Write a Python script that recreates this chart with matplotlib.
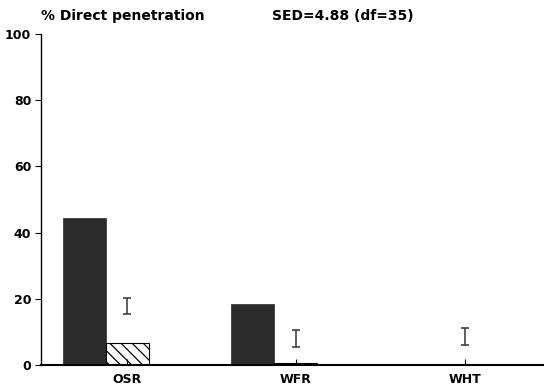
import matplotlib
matplotlib.use("Agg")
import matplotlib.pyplot as plt
import numpy as np

categories = ["OSR", "WFR", "WHT"]
direct_solid = [44.5, 18.5, 0.0]
direct_hatched = [6.5, 0.5, 0.0]
sed_centers = [17.8, 8.0, 8.6]
sed = 4.88
yticks = [0, 20, 40, 60, 80, 100]

plt.rcParams['font.family'] = ['DejaVu Sans']
plt.rcParams['font.weight'] = 'bold'
plt.rcParams['hatch.linewidth'] = 0.9

fig = plt.figure(figsize=(5.44, 3.88), dpi=100)
ax = fig.add_axes([41/544, 1-365/388, (544-41)/544, (365-34)/388])

x = np.arange(1, len(categories) + 1)
w = 0.255
ax.bar(x - w, direct_solid, width=w, align='center', color='#2b2b2b',
       edgecolor='#2b2b2b', linewidth=0.5)
ax.bar(x, direct_hatched, width=w, align='center', color='white',
       edgecolor='black', hatch='\\\\\\', linewidth=0.8)

ax.errorbar(x, sed_centers, yerr=sed/2, fmt='none', ecolor='#333333',
            elinewidth=1.1, capsize=3.2, capthick=1.1)

ax.set_xlim(0.49, 3.47)
ax.set_ylim(0, 100)
ax.set_yticks(yticks)
ax.set_yticklabels([str(t) for t in yticks], fontsize=9, fontweight='bold')
ax.set_xticks(x)
ax.set_xticklabels(categories, fontsize=9, fontweight='bold')
ax.tick_params(axis='x', direction='in', length=4, pad=6, width=0.8)
ax.tick_params(axis='y', direction='out', length=4, pad=3, width=0.8)
for s in ['top', 'right']:
    ax.spines[s].set_visible(False)
ax.spines['left'].set_linewidth(1.0)
ax.spines['bottom'].set_linewidth(1.5)

fig.text(41/544, 1-16/388, "% Direct penetration", fontsize=10, fontweight='bold',
         ha='left', va='center')
fig.text(272/544, 1-16/388, "SED=4.88 (df=35)", fontsize=10, fontweight='bold',
         ha='left', va='center')

fig.savefig("out.png", dpi=100)
